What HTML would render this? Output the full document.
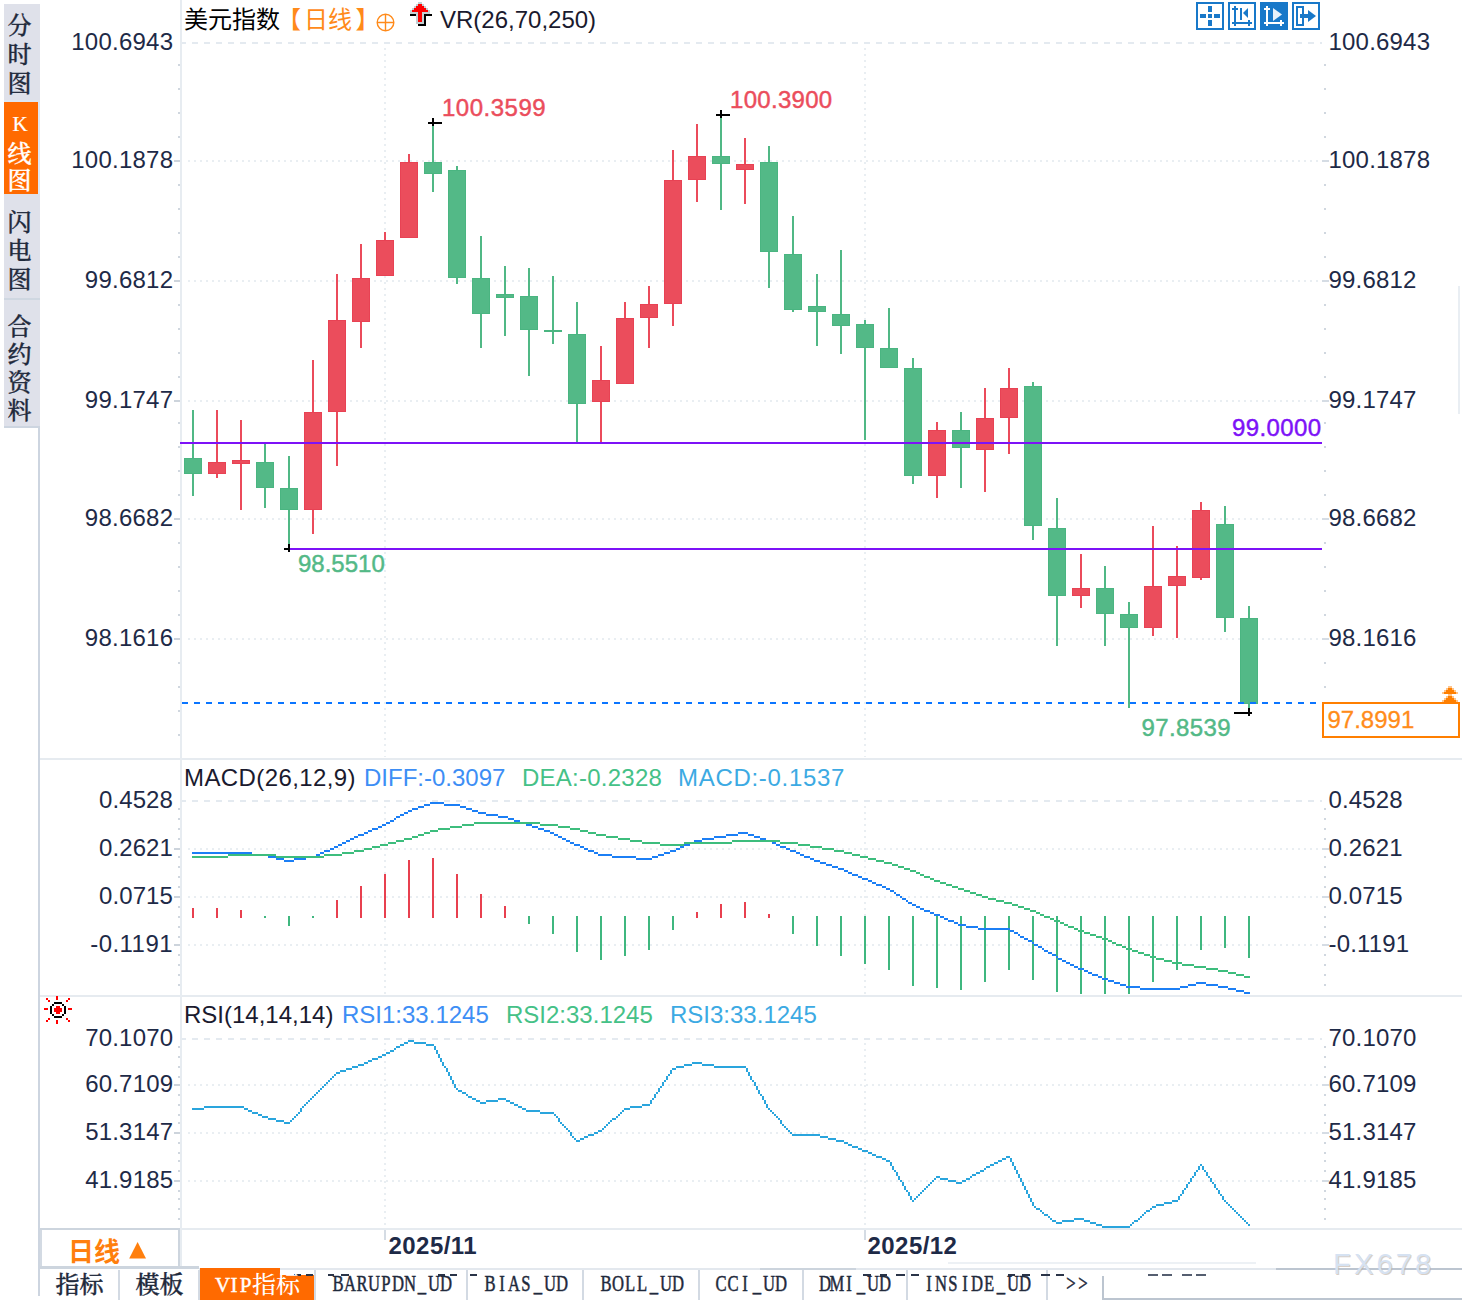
<!DOCTYPE html>
<html lang="zh-CN">
<head>
<meta charset="utf-8">
<title>美元指数 日线</title>
<style>
html,body{margin:0;padding:0;background:#fff;}
body{width:1462px;height:1300px;overflow:hidden;position:relative;font-family:'Liberation Sans','Noto Sans CJK SC',sans-serif;}
svg text{white-space:pre;}
</style>
</head>
<body>
<svg width="1462" height="1300" viewBox="0 0 1462 1300" style="position:absolute;left:0;top:0">
<g shape-rendering="crispEdges">
<rect x="4" y="4" width="36" height="423" fill="#dfe1ea"/>
<rect x="4" y="100" width="36" height="2" fill="#dde7f3"/>
<rect x="38" y="102" width="2" height="92" fill="#dde7f4"/>
<rect x="4" y="102" width="34" height="92" fill="#ff6a00"/>
<rect x="4" y="298" width="36" height="2" fill="#cfd7e1"/>
<rect x="4" y="426" width="36" height="2" fill="#cdd5e0"/>
<rect x="38" y="428" width="2" height="868" fill="#cdd5e0"/>
<rect x="40" y="758" width="1422" height="2" fill="#e6ebf0"/>
<rect x="40" y="995" width="1422" height="2" fill="#e6ebf0"/>
<rect x="40" y="1228" width="1422" height="2" fill="#e6ebf0"/>
<rect x="180" y="0" width="2" height="1268" fill="#e7ecf1"/>
<line x1="180" y1="43" x2="1322" y2="43" stroke="#e4eaf0" stroke-width="2" stroke-dasharray="6 6"/>
<line x1="188" y1="161" x2="1322" y2="161" stroke="#e9eef2" stroke-width="2" stroke-dasharray="2 4"/>
<line x1="188" y1="281" x2="1322" y2="281" stroke="#e9eef2" stroke-width="2" stroke-dasharray="2 4"/>
<line x1="188" y1="401" x2="1322" y2="401" stroke="#e9eef2" stroke-width="2" stroke-dasharray="2 4"/>
<line x1="188" y1="519" x2="1322" y2="519" stroke="#e9eef2" stroke-width="2" stroke-dasharray="2 4"/>
<line x1="188" y1="639" x2="1322" y2="639" stroke="#e9eef2" stroke-width="2" stroke-dasharray="2 4"/>
<line x1="180" y1="801" x2="1322" y2="801" stroke="#e4eaf0" stroke-width="2" stroke-dasharray="6 6"/>
<line x1="188" y1="849" x2="1322" y2="849" stroke="#e9eef2" stroke-width="2" stroke-dasharray="2 4"/>
<line x1="188" y1="897" x2="1322" y2="897" stroke="#e9eef2" stroke-width="2" stroke-dasharray="2 4"/>
<line x1="188" y1="945" x2="1322" y2="945" stroke="#e9eef2" stroke-width="2" stroke-dasharray="2 4"/>
<line x1="180" y1="1039" x2="1322" y2="1039" stroke="#e4eaf0" stroke-width="2" stroke-dasharray="6 6"/>
<line x1="188" y1="1085" x2="1322" y2="1085" stroke="#e9eef2" stroke-width="2" stroke-dasharray="2 4"/>
<line x1="188" y1="1133" x2="1322" y2="1133" stroke="#e9eef2" stroke-width="2" stroke-dasharray="2 4"/>
<line x1="188" y1="1181" x2="1322" y2="1181" stroke="#e9eef2" stroke-width="2" stroke-dasharray="2 4"/>
<line x1="385" y1="48" x2="385" y2="757" stroke="#e9eef2" stroke-width="2" stroke-dasharray="2 4"/>
<line x1="385" y1="806" x2="385" y2="994" stroke="#e9eef2" stroke-width="2" stroke-dasharray="2 4"/>
<line x1="385" y1="1043" x2="385" y2="1228" stroke="#e9eef2" stroke-width="2" stroke-dasharray="2 4"/>
<line x1="865" y1="48" x2="865" y2="757" stroke="#e9eef2" stroke-width="2" stroke-dasharray="2 4"/>
<line x1="865" y1="806" x2="865" y2="994" stroke="#e9eef2" stroke-width="2" stroke-dasharray="2 4"/>
<line x1="865" y1="1043" x2="865" y2="1228" stroke="#e9eef2" stroke-width="2" stroke-dasharray="2 4"/>
<rect x="180" y="0" width="2" height="1268" fill="#e7ecf1"/>
<rect x="178" y="64" width="2" height="2" fill="#d0d7df"/>
<rect x="1324" y="64" width="2" height="2" fill="#d0d7df"/>
<rect x="178" y="88" width="2" height="2" fill="#d0d7df"/>
<rect x="1324" y="88" width="2" height="2" fill="#d0d7df"/>
<rect x="178" y="112" width="2" height="2" fill="#d0d7df"/>
<rect x="1324" y="112" width="2" height="2" fill="#d0d7df"/>
<rect x="178" y="136" width="2" height="2" fill="#d0d7df"/>
<rect x="1324" y="136" width="2" height="2" fill="#d0d7df"/>
<rect x="178" y="184" width="2" height="2" fill="#d0d7df"/>
<rect x="1324" y="184" width="2" height="2" fill="#d0d7df"/>
<rect x="178" y="208" width="2" height="2" fill="#d0d7df"/>
<rect x="1324" y="208" width="2" height="2" fill="#d0d7df"/>
<rect x="178" y="232" width="2" height="2" fill="#d0d7df"/>
<rect x="1324" y="232" width="2" height="2" fill="#d0d7df"/>
<rect x="178" y="256" width="2" height="2" fill="#d0d7df"/>
<rect x="1324" y="256" width="2" height="2" fill="#d0d7df"/>
<rect x="178" y="304" width="2" height="2" fill="#d0d7df"/>
<rect x="1324" y="304" width="2" height="2" fill="#d0d7df"/>
<rect x="178" y="328" width="2" height="2" fill="#d0d7df"/>
<rect x="1324" y="328" width="2" height="2" fill="#d0d7df"/>
<rect x="178" y="352" width="2" height="2" fill="#d0d7df"/>
<rect x="1324" y="352" width="2" height="2" fill="#d0d7df"/>
<rect x="178" y="376" width="2" height="2" fill="#d0d7df"/>
<rect x="1324" y="376" width="2" height="2" fill="#d0d7df"/>
<rect x="178" y="422" width="2" height="2" fill="#d0d7df"/>
<rect x="1324" y="422" width="2" height="2" fill="#d0d7df"/>
<rect x="178" y="446" width="2" height="2" fill="#d0d7df"/>
<rect x="1324" y="446" width="2" height="2" fill="#d0d7df"/>
<rect x="178" y="470" width="2" height="2" fill="#d0d7df"/>
<rect x="1324" y="470" width="2" height="2" fill="#d0d7df"/>
<rect x="178" y="494" width="2" height="2" fill="#d0d7df"/>
<rect x="1324" y="494" width="2" height="2" fill="#d0d7df"/>
<rect x="178" y="542" width="2" height="2" fill="#d0d7df"/>
<rect x="1324" y="542" width="2" height="2" fill="#d0d7df"/>
<rect x="178" y="566" width="2" height="2" fill="#d0d7df"/>
<rect x="1324" y="566" width="2" height="2" fill="#d0d7df"/>
<rect x="178" y="590" width="2" height="2" fill="#d0d7df"/>
<rect x="1324" y="590" width="2" height="2" fill="#d0d7df"/>
<rect x="178" y="614" width="2" height="2" fill="#d0d7df"/>
<rect x="1324" y="614" width="2" height="2" fill="#d0d7df"/>
<rect x="178" y="662" width="2" height="2" fill="#d0d7df"/>
<rect x="1324" y="662" width="2" height="2" fill="#d0d7df"/>
<rect x="178" y="686" width="2" height="2" fill="#d0d7df"/>
<rect x="1324" y="686" width="2" height="2" fill="#d0d7df"/>
<rect x="178" y="710" width="2" height="2" fill="#d0d7df"/>
<rect x="1324" y="710" width="2" height="2" fill="#d0d7df"/>
<rect x="178" y="734" width="2" height="2" fill="#d0d7df"/>
<rect x="1324" y="734" width="2" height="2" fill="#d0d7df"/>
<rect x="174" y="160" width="6" height="2" fill="#cdd4dc"/>
<rect x="1322" y="160" width="7" height="2" fill="#d5dce4"/>
<rect x="174" y="280" width="6" height="2" fill="#cdd4dc"/>
<rect x="1322" y="280" width="7" height="2" fill="#d5dce4"/>
<rect x="174" y="400" width="6" height="2" fill="#cdd4dc"/>
<rect x="1322" y="400" width="7" height="2" fill="#d5dce4"/>
<rect x="174" y="518" width="6" height="2" fill="#cdd4dc"/>
<rect x="1322" y="518" width="7" height="2" fill="#d5dce4"/>
<rect x="174" y="638" width="6" height="2" fill="#cdd4dc"/>
<rect x="1322" y="638" width="7" height="2" fill="#d5dce4"/>
<rect x="178" y="808" width="2" height="2" fill="#d0d7df"/>
<rect x="1324" y="808" width="2" height="2" fill="#d0d7df"/>
<rect x="178" y="818" width="2" height="2" fill="#d0d7df"/>
<rect x="1324" y="818" width="2" height="2" fill="#d0d7df"/>
<rect x="178" y="828" width="2" height="2" fill="#d0d7df"/>
<rect x="1324" y="828" width="2" height="2" fill="#d0d7df"/>
<rect x="178" y="838" width="2" height="2" fill="#d0d7df"/>
<rect x="1324" y="838" width="2" height="2" fill="#d0d7df"/>
<rect x="178" y="856" width="2" height="2" fill="#d0d7df"/>
<rect x="1324" y="856" width="2" height="2" fill="#d0d7df"/>
<rect x="178" y="866" width="2" height="2" fill="#d0d7df"/>
<rect x="1324" y="866" width="2" height="2" fill="#d0d7df"/>
<rect x="178" y="876" width="2" height="2" fill="#d0d7df"/>
<rect x="1324" y="876" width="2" height="2" fill="#d0d7df"/>
<rect x="178" y="886" width="2" height="2" fill="#d0d7df"/>
<rect x="1324" y="886" width="2" height="2" fill="#d0d7df"/>
<rect x="178" y="906" width="2" height="2" fill="#d0d7df"/>
<rect x="1324" y="906" width="2" height="2" fill="#d0d7df"/>
<rect x="178" y="916" width="2" height="2" fill="#d0d7df"/>
<rect x="1324" y="916" width="2" height="2" fill="#d0d7df"/>
<rect x="178" y="926" width="2" height="2" fill="#d0d7df"/>
<rect x="1324" y="926" width="2" height="2" fill="#d0d7df"/>
<rect x="178" y="936" width="2" height="2" fill="#d0d7df"/>
<rect x="1324" y="936" width="2" height="2" fill="#d0d7df"/>
<rect x="178" y="954" width="2" height="2" fill="#d0d7df"/>
<rect x="1324" y="954" width="2" height="2" fill="#d0d7df"/>
<rect x="178" y="964" width="2" height="2" fill="#d0d7df"/>
<rect x="1324" y="964" width="2" height="2" fill="#d0d7df"/>
<rect x="178" y="974" width="2" height="2" fill="#d0d7df"/>
<rect x="1324" y="974" width="2" height="2" fill="#d0d7df"/>
<rect x="178" y="984" width="2" height="2" fill="#d0d7df"/>
<rect x="1324" y="984" width="2" height="2" fill="#d0d7df"/>
<rect x="174" y="848" width="6" height="2" fill="#cdd4dc"/>
<rect x="1322" y="848" width="7" height="2" fill="#d5dce4"/>
<rect x="174" y="896" width="6" height="2" fill="#cdd4dc"/>
<rect x="1322" y="896" width="7" height="2" fill="#d5dce4"/>
<rect x="174" y="944" width="6" height="2" fill="#cdd4dc"/>
<rect x="1322" y="944" width="7" height="2" fill="#d5dce4"/>
<rect x="178" y="1046" width="2" height="2" fill="#d0d7df"/>
<rect x="1324" y="1046" width="2" height="2" fill="#d0d7df"/>
<rect x="178" y="1056" width="2" height="2" fill="#d0d7df"/>
<rect x="1324" y="1056" width="2" height="2" fill="#d0d7df"/>
<rect x="178" y="1066" width="2" height="2" fill="#d0d7df"/>
<rect x="1324" y="1066" width="2" height="2" fill="#d0d7df"/>
<rect x="178" y="1076" width="2" height="2" fill="#d0d7df"/>
<rect x="1324" y="1076" width="2" height="2" fill="#d0d7df"/>
<rect x="178" y="1094" width="2" height="2" fill="#d0d7df"/>
<rect x="1324" y="1094" width="2" height="2" fill="#d0d7df"/>
<rect x="178" y="1104" width="2" height="2" fill="#d0d7df"/>
<rect x="1324" y="1104" width="2" height="2" fill="#d0d7df"/>
<rect x="178" y="1114" width="2" height="2" fill="#d0d7df"/>
<rect x="1324" y="1114" width="2" height="2" fill="#d0d7df"/>
<rect x="178" y="1122" width="2" height="2" fill="#d0d7df"/>
<rect x="1324" y="1122" width="2" height="2" fill="#d0d7df"/>
<rect x="178" y="1142" width="2" height="2" fill="#d0d7df"/>
<rect x="1324" y="1142" width="2" height="2" fill="#d0d7df"/>
<rect x="178" y="1152" width="2" height="2" fill="#d0d7df"/>
<rect x="1324" y="1152" width="2" height="2" fill="#d0d7df"/>
<rect x="178" y="1160" width="2" height="2" fill="#d0d7df"/>
<rect x="1324" y="1160" width="2" height="2" fill="#d0d7df"/>
<rect x="178" y="1170" width="2" height="2" fill="#d0d7df"/>
<rect x="1324" y="1170" width="2" height="2" fill="#d0d7df"/>
<rect x="178" y="1190" width="2" height="2" fill="#d0d7df"/>
<rect x="1324" y="1190" width="2" height="2" fill="#d0d7df"/>
<rect x="178" y="1198" width="2" height="2" fill="#d0d7df"/>
<rect x="1324" y="1198" width="2" height="2" fill="#d0d7df"/>
<rect x="178" y="1208" width="2" height="2" fill="#d0d7df"/>
<rect x="1324" y="1208" width="2" height="2" fill="#d0d7df"/>
<rect x="178" y="1218" width="2" height="2" fill="#d0d7df"/>
<rect x="1324" y="1218" width="2" height="2" fill="#d0d7df"/>
<rect x="174" y="1084" width="6" height="2" fill="#cdd4dc"/>
<rect x="1322" y="1084" width="7" height="2" fill="#d5dce4"/>
<rect x="174" y="1132" width="6" height="2" fill="#cdd4dc"/>
<rect x="1322" y="1132" width="7" height="2" fill="#d5dce4"/>
<rect x="174" y="1180" width="6" height="2" fill="#cdd4dc"/>
<rect x="1322" y="1180" width="7" height="2" fill="#d5dce4"/>
<rect x="180" y="441.5" width="1142" height="2.5" fill="#7d12f7"/>
<rect x="289" y="547.5" width="1033" height="2.5" fill="#7d12f7"/>
<rect x="192" y="410" width="2" height="86" fill="#50b885"/>
<rect x="184.5" y="458.5" width="17" height="15" fill="#53b987" stroke="#4ab581" stroke-width="1"/>
<rect x="216" y="410" width="2" height="68" fill="#eb4b5b"/>
<rect x="208.5" y="462.5" width="17" height="11" fill="#eb4d5c" stroke="#e84254" stroke-width="1"/>
<rect x="240" y="420" width="2" height="90" fill="#eb4b5b"/>
<rect x="232.5" y="460.5" width="17" height="3" fill="#eb4d5c" stroke="#e84254" stroke-width="1"/>
<rect x="264" y="444" width="2" height="64" fill="#50b885"/>
<rect x="256.5" y="462.5" width="17" height="25" fill="#53b987" stroke="#4ab581" stroke-width="1"/>
<rect x="288" y="456" width="2" height="93" fill="#50b885"/>
<rect x="280.5" y="488.5" width="17" height="21" fill="#53b987" stroke="#4ab581" stroke-width="1"/>
<rect x="312" y="360" width="2" height="174" fill="#eb4b5b"/>
<rect x="304.5" y="412.5" width="17" height="97" fill="#eb4d5c" stroke="#e84254" stroke-width="1"/>
<rect x="336" y="274" width="2" height="192" fill="#eb4b5b"/>
<rect x="328.5" y="320.5" width="17" height="91" fill="#eb4d5c" stroke="#e84254" stroke-width="1"/>
<rect x="360" y="244" width="2" height="104" fill="#eb4b5b"/>
<rect x="352.5" y="278.5" width="17" height="43" fill="#eb4d5c" stroke="#e84254" stroke-width="1"/>
<rect x="384" y="232" width="2" height="44" fill="#eb4b5b"/>
<rect x="376.5" y="240.5" width="17" height="35" fill="#eb4d5c" stroke="#e84254" stroke-width="1"/>
<rect x="408" y="154" width="2" height="84" fill="#eb4b5b"/>
<rect x="400.5" y="162.5" width="17" height="75" fill="#eb4d5c" stroke="#e84254" stroke-width="1"/>
<rect x="432" y="123" width="2" height="69" fill="#50b885"/>
<rect x="424.5" y="162.5" width="17" height="11" fill="#53b987" stroke="#4ab581" stroke-width="1"/>
<rect x="456" y="166" width="2" height="118" fill="#50b885"/>
<rect x="448.5" y="170.5" width="17" height="107" fill="#53b987" stroke="#4ab581" stroke-width="1"/>
<rect x="480" y="236" width="2" height="112" fill="#50b885"/>
<rect x="472.5" y="278.5" width="17" height="35" fill="#53b987" stroke="#4ab581" stroke-width="1"/>
<rect x="504" y="266" width="2" height="70" fill="#50b885"/>
<rect x="496.5" y="294.5" width="17" height="3" fill="#53b987" stroke="#4ab581" stroke-width="1"/>
<rect x="528" y="268" width="2" height="108" fill="#50b885"/>
<rect x="520.5" y="296.5" width="17" height="33" fill="#53b987" stroke="#4ab581" stroke-width="1"/>
<rect x="552" y="276" width="2" height="68" fill="#50b885"/>
<rect x="544" y="330" width="18" height="2" fill="#4ab581"/>
<rect x="576" y="302" width="2" height="140" fill="#50b885"/>
<rect x="568.5" y="334.5" width="17" height="69" fill="#53b987" stroke="#4ab581" stroke-width="1"/>
<rect x="600" y="346" width="2" height="96" fill="#eb4b5b"/>
<rect x="592.5" y="380.5" width="17" height="21" fill="#eb4d5c" stroke="#e84254" stroke-width="1"/>
<rect x="624" y="302" width="2" height="82" fill="#eb4b5b"/>
<rect x="616.5" y="318.5" width="17" height="65" fill="#eb4d5c" stroke="#e84254" stroke-width="1"/>
<rect x="648" y="286" width="2" height="62" fill="#eb4b5b"/>
<rect x="640.5" y="304.5" width="17" height="13" fill="#eb4d5c" stroke="#e84254" stroke-width="1"/>
<rect x="672" y="150" width="2" height="176" fill="#eb4b5b"/>
<rect x="664.5" y="180.5" width="17" height="123" fill="#eb4d5c" stroke="#e84254" stroke-width="1"/>
<rect x="696" y="124" width="2" height="78" fill="#eb4b5b"/>
<rect x="688.5" y="156.5" width="17" height="23" fill="#eb4d5c" stroke="#e84254" stroke-width="1"/>
<rect x="720" y="115" width="2" height="95" fill="#50b885"/>
<rect x="712.5" y="156.5" width="17" height="7" fill="#53b987" stroke="#4ab581" stroke-width="1"/>
<rect x="744" y="138" width="2" height="66" fill="#eb4b5b"/>
<rect x="736.5" y="164.5" width="17" height="5" fill="#eb4d5c" stroke="#e84254" stroke-width="1"/>
<rect x="768" y="146" width="2" height="142" fill="#50b885"/>
<rect x="760.5" y="162.5" width="17" height="89" fill="#53b987" stroke="#4ab581" stroke-width="1"/>
<rect x="792" y="216" width="2" height="96" fill="#50b885"/>
<rect x="784.5" y="254.5" width="17" height="55" fill="#53b987" stroke="#4ab581" stroke-width="1"/>
<rect x="816" y="274" width="2" height="72" fill="#50b885"/>
<rect x="808.5" y="306.5" width="17" height="5" fill="#53b987" stroke="#4ab581" stroke-width="1"/>
<rect x="840" y="250" width="2" height="104" fill="#50b885"/>
<rect x="832.5" y="314.5" width="17" height="11" fill="#53b987" stroke="#4ab581" stroke-width="1"/>
<rect x="864" y="320" width="2" height="120" fill="#50b885"/>
<rect x="856.5" y="324.5" width="17" height="23" fill="#53b987" stroke="#4ab581" stroke-width="1"/>
<rect x="888" y="308" width="2" height="60" fill="#50b885"/>
<rect x="880.5" y="348.5" width="17" height="19" fill="#53b987" stroke="#4ab581" stroke-width="1"/>
<rect x="912" y="358" width="2" height="126" fill="#50b885"/>
<rect x="904.5" y="368.5" width="17" height="107" fill="#53b987" stroke="#4ab581" stroke-width="1"/>
<rect x="936" y="422" width="2" height="76" fill="#eb4b5b"/>
<rect x="928.5" y="430.5" width="17" height="45" fill="#eb4d5c" stroke="#e84254" stroke-width="1"/>
<rect x="960" y="412" width="2" height="76" fill="#50b885"/>
<rect x="952.5" y="430.5" width="17" height="17" fill="#53b987" stroke="#4ab581" stroke-width="1"/>
<rect x="984" y="388" width="2" height="104" fill="#eb4b5b"/>
<rect x="976.5" y="418.5" width="17" height="31" fill="#eb4d5c" stroke="#e84254" stroke-width="1"/>
<rect x="1008" y="368" width="2" height="86" fill="#eb4b5b"/>
<rect x="1000.5" y="388.5" width="17" height="29" fill="#eb4d5c" stroke="#e84254" stroke-width="1"/>
<rect x="1032" y="382" width="2" height="158" fill="#50b885"/>
<rect x="1024.5" y="386.5" width="17" height="139" fill="#53b987" stroke="#4ab581" stroke-width="1"/>
<rect x="1056" y="498" width="2" height="148" fill="#50b885"/>
<rect x="1048.5" y="528.5" width="17" height="67" fill="#53b987" stroke="#4ab581" stroke-width="1"/>
<rect x="1080" y="554" width="2" height="54" fill="#eb4b5b"/>
<rect x="1072.5" y="588.5" width="17" height="7" fill="#eb4d5c" stroke="#e84254" stroke-width="1"/>
<rect x="1104" y="566" width="2" height="80" fill="#50b885"/>
<rect x="1096.5" y="588.5" width="17" height="25" fill="#53b987" stroke="#4ab581" stroke-width="1"/>
<rect x="1128" y="602" width="2" height="106" fill="#50b885"/>
<rect x="1120.5" y="614.5" width="17" height="13" fill="#53b987" stroke="#4ab581" stroke-width="1"/>
<rect x="1152" y="526" width="2" height="110" fill="#eb4b5b"/>
<rect x="1144.5" y="586.5" width="17" height="41" fill="#eb4d5c" stroke="#e84254" stroke-width="1"/>
<rect x="1176" y="546" width="2" height="92" fill="#eb4b5b"/>
<rect x="1168.5" y="576.5" width="17" height="9" fill="#eb4d5c" stroke="#e84254" stroke-width="1"/>
<rect x="1200" y="502" width="2" height="78" fill="#eb4b5b"/>
<rect x="1192.5" y="510.5" width="17" height="67" fill="#eb4d5c" stroke="#e84254" stroke-width="1"/>
<rect x="1224" y="506" width="2" height="126" fill="#50b885"/>
<rect x="1216.5" y="524.5" width="17" height="93" fill="#53b987" stroke="#4ab581" stroke-width="1"/>
<rect x="1248" y="606" width="2" height="106" fill="#50b885"/>
<rect x="1240.5" y="618.5" width="17" height="85" fill="#53b987" stroke="#4ab581" stroke-width="1"/>
<rect x="180" y="441.5" width="1142" height="2.5" fill="#7d12f7"/>
<rect x="289" y="547.5" width="1033" height="2.5" fill="#7d12f7"/>
<rect x="428" y="122" width="14" height="2" fill="#000"/>
<rect x="432" y="118" width="2" height="8" fill="#000"/>
<rect x="716" y="114" width="14" height="2" fill="#000"/>
<rect x="720" y="110" width="2" height="8" fill="#000"/>
<rect x="284" y="548" width="6" height="2" fill="#000"/>
<rect x="288" y="544" width="2" height="8" fill="#000"/>
<rect x="1234" y="712" width="18" height="2" fill="#000"/>
<rect x="1248" y="708" width="2" height="8" fill="#000"/>
<line x1="182" y1="703" x2="1318" y2="703" stroke="#0a75ff" stroke-width="2" stroke-dasharray="6 6"/>
<rect x="1323" y="703" width="136" height="34" fill="#fff" stroke="#ff7f00" stroke-width="2"/>
<rect x="1448" y="686" width="4" height="2" fill="#ffc48a"/>
<rect x="1448" y="688" width="4" height="2" fill="#ff7f00"/>
<rect x="1446" y="688" width="2" height="2" fill="#ffc48a"/>
<rect x="1452" y="688" width="2" height="2" fill="#ffc48a"/>
<rect x="1446" y="690" width="8" height="2" fill="#ff7f00"/>
<rect x="1444" y="690" width="2" height="2" fill="#ffc48a"/>
<rect x="1454" y="690" width="2" height="2" fill="#ffc48a"/>
<rect x="1444" y="692" width="12" height="2" fill="#ff7f00"/>
<rect x="1442" y="692" width="2" height="2" fill="#ffc48a"/>
<rect x="1456" y="692" width="2" height="2" fill="#ffc48a"/>
<rect x="1448" y="694" width="4" height="2" fill="#ffc48a"/>
<rect x="1448" y="696" width="4" height="2" fill="#ff7f00"/>
<rect x="1446" y="696" width="2" height="2" fill="#ffc48a"/>
<rect x="1452" y="696" width="2" height="2" fill="#ffc48a"/>
<rect x="1446" y="698" width="8" height="2" fill="#ff7f00"/>
<rect x="1444" y="698" width="2" height="2" fill="#ffc48a"/>
<rect x="1454" y="698" width="2" height="2" fill="#ffc48a"/>
<rect x="1444" y="700" width="12" height="2" fill="#ff7f00"/>
<rect x="1442" y="700" width="2" height="2" fill="#ffc48a"/>
<rect x="1456" y="700" width="2" height="2" fill="#ffc48a"/>
<rect x="1458" y="286" width="2" height="128" fill="#e9eef3"/>
<rect x="192" y="908" width="2" height="10" fill="#e8404f"/>
<rect x="216" y="908" width="2" height="10" fill="#e8404f"/>
<rect x="240" y="910" width="2" height="8" fill="#e8404f"/>
<rect x="264" y="916" width="2" height="2" fill="#3fb77f"/>
<rect x="288" y="916" width="2" height="10" fill="#3fb77f"/>
<rect x="312" y="916" width="2" height="2" fill="#3fb77f"/>
<rect x="336" y="900" width="2" height="18" fill="#e8404f"/>
<rect x="360" y="886" width="2" height="32" fill="#e8404f"/>
<rect x="384" y="874" width="2" height="44" fill="#e8404f"/>
<rect x="408" y="860" width="2" height="58" fill="#e8404f"/>
<rect x="432" y="858" width="2" height="60" fill="#e8404f"/>
<rect x="456" y="874" width="2" height="44" fill="#e8404f"/>
<rect x="480" y="894" width="2" height="24" fill="#e8404f"/>
<rect x="504" y="906" width="2" height="12" fill="#e8404f"/>
<rect x="528" y="916" width="2" height="8" fill="#3fb77f"/>
<rect x="552" y="916" width="2" height="18" fill="#3fb77f"/>
<rect x="576" y="916" width="2" height="36" fill="#3fb77f"/>
<rect x="600" y="916" width="2" height="44" fill="#3fb77f"/>
<rect x="624" y="916" width="2" height="40" fill="#3fb77f"/>
<rect x="648" y="916" width="2" height="34" fill="#3fb77f"/>
<rect x="672" y="916" width="2" height="14" fill="#3fb77f"/>
<rect x="696" y="912" width="2" height="6" fill="#e8404f"/>
<rect x="720" y="904" width="2" height="14" fill="#e8404f"/>
<rect x="744" y="902" width="2" height="16" fill="#e8404f"/>
<rect x="768" y="914" width="2" height="4" fill="#e8404f"/>
<rect x="792" y="916" width="2" height="18" fill="#3fb77f"/>
<rect x="816" y="916" width="2" height="30" fill="#3fb77f"/>
<rect x="840" y="916" width="2" height="40" fill="#3fb77f"/>
<rect x="864" y="916" width="2" height="48" fill="#3fb77f"/>
<rect x="888" y="916" width="2" height="54" fill="#3fb77f"/>
<rect x="912" y="916" width="2" height="70" fill="#3fb77f"/>
<rect x="936" y="916" width="2" height="72" fill="#3fb77f"/>
<rect x="960" y="916" width="2" height="74" fill="#3fb77f"/>
<rect x="984" y="916" width="2" height="66" fill="#3fb77f"/>
<rect x="1008" y="916" width="2" height="54" fill="#3fb77f"/>
<rect x="1032" y="916" width="2" height="64" fill="#3fb77f"/>
<rect x="1056" y="916" width="2" height="76" fill="#3fb77f"/>
<rect x="1080" y="916" width="2" height="78" fill="#3fb77f"/>
<rect x="1104" y="916" width="2" height="78" fill="#3fb77f"/>
<rect x="1128" y="916" width="2" height="78" fill="#3fb77f"/>
<rect x="1152" y="916" width="2" height="66" fill="#3fb77f"/>
<rect x="1176" y="916" width="2" height="54" fill="#3fb77f"/>
<rect x="1200" y="916" width="2" height="34" fill="#3fb77f"/>
<rect x="1224" y="916" width="2" height="32" fill="#3fb77f"/>
<rect x="1248" y="916" width="2" height="42" fill="#3fb77f"/>
</g>
<path d="M430 802h14v2h-14zM424 804h6v2h-6zM444 804h16v2h-16zM418 806h6v2h-6zM460 806h6v2h-6zM412 808h6v2h-6zM466 808h6v2h-6zM408 810h4v2h-4zM472 810h6v2h-6zM404 812h4v2h-4zM478 812h8v2h-8zM400 814h4v2h-4zM486 814h12v2h-12zM396 816h4v2h-4zM498 816h10v2h-10zM394 818h2v2h-2zM508 818h6v2h-6zM390 820h4v2h-4zM514 820h6v2h-6zM386 822h4v2h-4zM520 822h6v2h-6zM382 824h4v2h-4zM526 824h6v2h-6zM378 826h4v2h-4zM532 826h6v2h-6zM372 828h6v2h-6zM538 828h6v2h-6zM368 830h4v2h-4zM544 830h6v2h-6zM364 832h4v2h-4zM550 832h4v2h-4zM738 832h10v2h-10zM358 834h6v2h-6zM554 834h4v2h-4zM726 834h12v2h-12zM748 834h6v2h-6zM354 836h4v2h-4zM558 836h4v2h-4zM714 836h12v2h-12zM754 836h6v2h-6zM350 838h4v2h-4zM562 838h4v2h-4zM702 838h12v2h-12zM760 838h6v2h-6zM346 840h4v2h-4zM566 840h4v2h-4zM694 840h8v2h-8zM766 840h6v2h-6zM342 842h4v2h-4zM570 842h4v2h-4zM690 842h4v2h-4zM772 842h4v2h-4zM338 844h4v2h-4zM574 844h6v2h-6zM684 844h6v2h-6zM776 844h4v2h-4zM334 846h4v2h-4zM580 846h4v2h-4zM680 846h4v2h-4zM780 846h6v2h-6zM330 848h4v2h-4zM584 848h4v2h-4zM676 848h4v2h-4zM786 848h4v2h-4zM324 850h6v2h-6zM588 850h6v2h-6zM670 850h6v2h-6zM790 850h6v2h-6zM192 852h60v2h-60zM320 852h4v2h-4zM594 852h4v2h-4zM664 852h6v2h-6zM796 852h4v2h-4zM252 854h16v2h-16zM316 854h4v2h-4zM598 854h14v2h-14zM658 854h6v2h-6zM800 854h4v2h-4zM268 856h8v2h-8zM306 856h10v2h-10zM612 856h24v2h-24zM652 856h6v2h-6zM804 856h6v2h-6zM276 858h8v2h-8zM294 858h12v2h-12zM636 858h16v2h-16zM810 858h4v2h-4zM284 860h10v2h-10zM814 860h6v2h-6zM820 862h6v2h-6zM826 864h6v2h-6zM832 866h6v2h-6zM838 868h6v2h-6zM844 870h4v2h-4zM848 872h4v2h-4zM852 874h6v2h-6zM858 876h4v2h-4zM862 878h6v2h-6zM868 880h4v2h-4zM872 882h4v2h-4zM876 884h6v2h-6zM882 886h4v2h-4zM886 888h4v2h-4zM890 890h4v2h-4zM894 892h2v2h-2zM896 894h4v2h-4zM900 896h2v2h-2zM902 898h4v2h-4zM906 900h2v2h-2zM908 902h4v2h-4zM912 904h4v2h-4zM916 906h4v2h-4zM920 908h4v2h-4zM924 910h6v2h-6zM930 912h4v2h-4zM934 914h6v2h-6zM940 916h4v2h-4zM944 918h4v2h-4zM948 920h6v2h-6zM954 922h4v2h-4zM958 924h8v2h-8zM966 926h12v2h-12zM978 928h32v2h-32zM1010 930h4v2h-4zM1014 932h4v2h-4zM1018 934h2v2h-2zM1020 936h4v2h-4zM1024 938h4v2h-4zM1028 940h4v2h-4zM1032 942h2v2h-2zM1034 944h4v2h-4zM1038 946h4v2h-4zM1042 948h2v2h-2zM1044 950h4v2h-4zM1048 952h4v2h-4zM1052 954h4v2h-4zM1056 956h2v2h-2zM1058 958h4v2h-4zM1062 960h4v2h-4zM1066 962h4v2h-4zM1070 964h4v2h-4zM1074 966h4v2h-4zM1078 968h6v2h-6zM1084 970h4v2h-4zM1088 972h4v2h-4zM1092 974h6v2h-6zM1098 976h4v2h-4zM1102 978h6v2h-6zM1108 980h6v2h-6zM1114 982h6v2h-6zM1196 982h10v2h-10zM1120 984h6v2h-6zM1188 984h8v2h-8zM1206 984h12v2h-12zM1126 986h14v2h-14zM1180 986h8v2h-8zM1218 986h10v2h-10zM1140 988h40v2h-40zM1228 988h8v2h-8zM1236 990h8v2h-8zM1244 992h6v2h-6z" fill="#1c7ff5" shape-rendering="crispEdges"/>
<path d="M474 822h66v2h-66zM462 824h12v2h-12zM540 824h18v2h-18zM450 826h12v2h-12zM558 826h12v2h-12zM438 828h12v2h-12zM570 828h10v2h-10zM430 830h8v2h-8zM580 830h8v2h-8zM424 832h6v2h-6zM588 832h8v2h-8zM418 834h6v2h-6zM596 834h10v2h-10zM412 836h6v2h-6zM606 836h12v2h-12zM404 838h8v2h-8zM618 838h12v2h-12zM396 840h8v2h-8zM630 840h12v2h-12zM732 840h48v2h-48zM388 842h8v2h-8zM642 842h18v2h-18zM684 842h48v2h-48zM780 842h18v2h-18zM380 844h8v2h-8zM660 844h24v2h-24zM798 844h12v2h-12zM372 846h8v2h-8zM810 846h12v2h-12zM364 848h8v2h-8zM822 848h12v2h-12zM354 850h10v2h-10zM834 850h10v2h-10zM342 852h12v2h-12zM844 852h8v2h-8zM228 854h48v2h-48zM324 854h18v2h-18zM852 854h8v2h-8zM192 856h36v2h-36zM276 856h48v2h-48zM860 856h8v2h-8zM868 858h8v2h-8zM876 860h8v2h-8zM884 862h8v2h-8zM892 864h6v2h-6zM898 866h6v2h-6zM904 868h6v2h-6zM910 870h6v2h-6zM916 872h4v2h-4zM920 874h4v2h-4zM924 876h6v2h-6zM930 878h4v2h-4zM934 880h6v2h-6zM940 882h6v2h-6zM946 884h6v2h-6zM952 886h6v2h-6zM958 888h6v2h-6zM964 890h6v2h-6zM970 892h6v2h-6zM976 894h6v2h-6zM982 896h6v2h-6zM988 898h8v2h-8zM996 900h8v2h-8zM1004 902h8v2h-8zM1012 904h6v2h-6zM1018 906h6v2h-6zM1024 908h6v2h-6zM1030 910h6v2h-6zM1036 912h4v2h-4zM1040 914h4v2h-4zM1044 916h6v2h-6zM1050 918h4v2h-4zM1054 920h6v2h-6zM1060 922h4v2h-4zM1064 924h4v2h-4zM1068 926h6v2h-6zM1074 928h4v2h-4zM1078 930h6v2h-6zM1084 932h6v2h-6zM1090 934h6v2h-6zM1096 936h6v2h-6zM1102 938h6v2h-6zM1108 940h4v2h-4zM1112 942h4v2h-4zM1116 944h6v2h-6zM1122 946h4v2h-4zM1126 948h6v2h-6zM1132 950h6v2h-6zM1138 952h6v2h-6zM1144 954h6v2h-6zM1150 956h6v2h-6zM1156 958h8v2h-8zM1164 960h8v2h-8zM1172 962h10v2h-10zM1182 964h12v2h-12zM1194 966h12v2h-12zM1206 968h12v2h-12zM1218 970h10v2h-10zM1228 972h8v2h-8zM1236 974h8v2h-8zM1244 976h6v2h-6z" fill="#3dbd7d" shape-rendering="crispEdges"/>
<path d="M408 1040h6v2h-6zM404 1042h4v2h-4zM414 1042h12v2h-12zM400 1044h4v2h-4zM426 1044h8v2h-8zM396 1046h4v2h-4zM434 1046h2v2h-2zM394 1048h2v2h-2zM434 1048h2v2h-2zM390 1050h4v2h-4zM436 1050h2v2h-2zM386 1052h4v2h-4zM436 1052h2v2h-2zM382 1054h4v2h-4zM438 1054h2v2h-2zM378 1056h4v2h-4zM438 1056h2v2h-2zM372 1058h6v2h-6zM440 1058h2v2h-2zM368 1060h4v2h-4zM440 1060h2v2h-2zM364 1062h4v2h-4zM442 1062h2v2h-2zM692 1062h10v2h-10zM358 1064h6v2h-6zM442 1064h2v2h-2zM684 1064h8v2h-8zM702 1064h12v2h-12zM352 1066h6v2h-6zM444 1066h2v2h-2zM676 1066h8v2h-8zM714 1066h32v2h-32zM346 1068h6v2h-6zM446 1068h2v2h-2zM672 1068h4v2h-4zM746 1068h2v2h-2zM340 1070h6v2h-6zM446 1070h2v2h-2zM670 1070h2v2h-2zM746 1070h2v2h-2zM336 1072h4v2h-4zM448 1072h2v2h-2zM670 1072h2v2h-2zM748 1072h2v2h-2zM334 1074h2v2h-2zM448 1074h2v2h-2zM668 1074h2v2h-2zM748 1074h2v2h-2zM332 1076h2v2h-2zM450 1076h2v2h-2zM666 1076h2v2h-2zM750 1076h2v2h-2zM330 1078h2v2h-2zM450 1078h2v2h-2zM666 1078h2v2h-2zM750 1078h2v2h-2zM328 1080h2v2h-2zM452 1080h2v2h-2zM664 1080h2v2h-2zM752 1080h2v2h-2zM326 1082h2v2h-2zM452 1082h2v2h-2zM662 1082h2v2h-2zM754 1082h2v2h-2zM324 1084h2v2h-2zM454 1084h2v2h-2zM662 1084h2v2h-2zM754 1084h2v2h-2zM322 1086h2v2h-2zM454 1086h2v2h-2zM660 1086h2v2h-2zM756 1086h2v2h-2zM320 1088h2v2h-2zM456 1088h2v2h-2zM658 1088h2v2h-2zM756 1088h2v2h-2zM318 1090h2v2h-2zM458 1090h4v2h-4zM658 1090h2v2h-2zM758 1090h2v2h-2zM316 1092h2v2h-2zM462 1092h4v2h-4zM656 1092h2v2h-2zM758 1092h2v2h-2zM314 1094h2v2h-2zM466 1094h2v2h-2zM654 1094h2v2h-2zM760 1094h2v2h-2zM312 1096h2v2h-2zM468 1096h4v2h-4zM654 1096h2v2h-2zM762 1096h2v2h-2zM310 1098h2v2h-2zM472 1098h4v2h-4zM498 1098h8v2h-8zM652 1098h2v2h-2zM762 1098h2v2h-2zM308 1100h2v2h-2zM476 1100h4v2h-4zM486 1100h12v2h-12zM506 1100h4v2h-4zM650 1100h2v2h-2zM764 1100h2v2h-2zM306 1102h2v2h-2zM480 1102h6v2h-6zM510 1102h4v2h-4zM650 1102h2v2h-2zM764 1102h2v2h-2zM304 1104h2v2h-2zM514 1104h4v2h-4zM642 1104h8v2h-8zM766 1104h2v2h-2zM204 1106h40v2h-40zM302 1106h2v2h-2zM518 1106h4v2h-4zM630 1106h12v2h-12zM766 1106h2v2h-2zM192 1108h12v2h-12zM244 1108h4v2h-4zM300 1108h2v2h-2zM522 1108h4v2h-4zM624 1108h6v2h-6zM768 1108h2v2h-2zM248 1110h4v2h-4zM300 1110h2v2h-2zM526 1110h14v2h-14zM622 1110h2v2h-2zM770 1110h2v2h-2zM252 1112h6v2h-6zM298 1112h2v2h-2zM540 1112h14v2h-14zM620 1112h2v2h-2zM772 1112h2v2h-2zM258 1114h4v2h-4zM296 1114h2v2h-2zM554 1114h2v2h-2zM618 1114h2v2h-2zM774 1114h2v2h-2zM262 1116h6v2h-6zM294 1116h2v2h-2zM556 1116h2v2h-2zM616 1116h2v2h-2zM776 1116h2v2h-2zM268 1118h8v2h-8zM292 1118h2v2h-2zM558 1118h2v2h-2zM612 1118h4v2h-4zM778 1118h2v2h-2zM276 1120h8v2h-8zM290 1120h2v2h-2zM558 1120h2v2h-2zM610 1120h2v2h-2zM780 1120h2v2h-2zM284 1122h6v2h-6zM560 1122h2v2h-2zM608 1122h2v2h-2zM780 1122h2v2h-2zM562 1124h2v2h-2zM606 1124h2v2h-2zM782 1124h2v2h-2zM564 1126h2v2h-2zM604 1126h2v2h-2zM784 1126h2v2h-2zM566 1128h2v2h-2zM602 1128h2v2h-2zM786 1128h2v2h-2zM568 1130h2v2h-2zM598 1130h4v2h-4zM788 1130h2v2h-2zM570 1132h2v2h-2zM594 1132h4v2h-4zM790 1132h2v2h-2zM570 1134h2v2h-2zM588 1134h6v2h-6zM792 1134h28v2h-28zM572 1136h2v2h-2zM584 1136h4v2h-4zM820 1136h8v2h-8zM574 1138h2v2h-2zM580 1138h4v2h-4zM828 1138h8v2h-8zM576 1140h4v2h-4zM836 1140h8v2h-8zM844 1142h4v2h-4zM848 1144h4v2h-4zM852 1146h6v2h-6zM858 1148h4v2h-4zM862 1150h6v2h-6zM868 1152h4v2h-4zM872 1154h4v2h-4zM876 1156h6v2h-6zM1006 1156h4v2h-4zM882 1158h4v2h-4zM1002 1158h4v2h-4zM1010 1158h2v2h-2zM886 1160h4v2h-4zM998 1160h4v2h-4zM1010 1160h2v2h-2zM890 1162h2v2h-2zM994 1162h4v2h-4zM1012 1162h2v2h-2zM890 1164h2v2h-2zM990 1164h4v2h-4zM1012 1164h2v2h-2zM1200 1164h2v2h-2zM892 1166h2v2h-2zM986 1166h4v2h-4zM1014 1166h2v2h-2zM1198 1166h2v2h-2zM1202 1166h2v2h-2zM892 1168h2v2h-2zM984 1168h2v2h-2zM1014 1168h2v2h-2zM1198 1168h2v2h-2zM1202 1168h2v2h-2zM894 1170h2v2h-2zM980 1170h4v2h-4zM1016 1170h2v2h-2zM1196 1170h2v2h-2zM1204 1170h2v2h-2zM896 1172h2v2h-2zM976 1172h4v2h-4zM1016 1172h2v2h-2zM1194 1172h2v2h-2zM1206 1172h2v2h-2zM896 1174h2v2h-2zM972 1174h4v2h-4zM1018 1174h2v2h-2zM1194 1174h2v2h-2zM1206 1174h2v2h-2zM898 1176h2v2h-2zM936 1176h4v2h-4zM970 1176h2v2h-2zM1018 1176h2v2h-2zM1192 1176h2v2h-2zM1208 1176h2v2h-2zM898 1178h2v2h-2zM934 1178h2v2h-2zM940 1178h8v2h-8zM966 1178h4v2h-4zM1020 1178h2v2h-2zM1190 1178h2v2h-2zM1210 1178h2v2h-2zM900 1180h2v2h-2zM932 1180h2v2h-2zM948 1180h8v2h-8zM962 1180h4v2h-4zM1020 1180h2v2h-2zM1190 1180h2v2h-2zM1210 1180h2v2h-2zM902 1182h2v2h-2zM930 1182h2v2h-2zM956 1182h6v2h-6zM1022 1182h2v2h-2zM1188 1182h2v2h-2zM1212 1182h2v2h-2zM902 1184h2v2h-2zM928 1184h2v2h-2zM1022 1184h2v2h-2zM1186 1184h2v2h-2zM1214 1184h2v2h-2zM904 1186h2v2h-2zM926 1186h2v2h-2zM1024 1186h2v2h-2zM1186 1186h2v2h-2zM1214 1186h2v2h-2zM904 1188h2v2h-2zM924 1188h2v2h-2zM1024 1188h2v2h-2zM1184 1188h2v2h-2zM1216 1188h2v2h-2zM906 1190h2v2h-2zM922 1190h2v2h-2zM1026 1190h2v2h-2zM1182 1190h2v2h-2zM1218 1190h2v2h-2zM908 1192h2v2h-2zM920 1192h2v2h-2zM1026 1192h2v2h-2zM1182 1192h2v2h-2zM1218 1192h2v2h-2zM908 1194h2v2h-2zM918 1194h2v2h-2zM1028 1194h2v2h-2zM1180 1194h2v2h-2zM1220 1194h2v2h-2zM910 1196h2v2h-2zM916 1196h2v2h-2zM1028 1196h2v2h-2zM1178 1196h2v2h-2zM1222 1196h2v2h-2zM910 1198h2v2h-2zM914 1198h2v2h-2zM1030 1198h2v2h-2zM1178 1198h2v2h-2zM1222 1198h2v2h-2zM912 1200h2v2h-2zM1030 1200h2v2h-2zM1172 1200h6v2h-6zM1224 1200h2v2h-2zM1032 1202h2v2h-2zM1164 1202h8v2h-8zM1226 1202h2v2h-2zM1032 1204h2v2h-2zM1156 1204h8v2h-8zM1228 1204h2v2h-2zM1034 1206h2v2h-2zM1152 1206h4v2h-4zM1230 1206h2v2h-2zM1036 1208h4v2h-4zM1150 1208h2v2h-2zM1232 1208h2v2h-2zM1040 1210h2v2h-2zM1146 1210h4v2h-4zM1234 1210h2v2h-2zM1042 1212h2v2h-2zM1144 1212h2v2h-2zM1236 1212h2v2h-2zM1044 1214h4v2h-4zM1142 1214h2v2h-2zM1238 1214h2v2h-2zM1048 1216h2v2h-2zM1140 1216h2v2h-2zM1240 1216h2v2h-2zM1050 1218h2v2h-2zM1074 1218h10v2h-10zM1138 1218h2v2h-2zM1242 1218h2v2h-2zM1052 1220h4v2h-4zM1062 1220h12v2h-12zM1084 1220h6v2h-6zM1134 1220h4v2h-4zM1244 1220h2v2h-2zM1056 1222h6v2h-6zM1090 1222h6v2h-6zM1132 1222h2v2h-2zM1246 1222h2v2h-2zM1096 1224h6v2h-6zM1130 1224h2v2h-2zM1248 1224h2v2h-2zM1102 1226h28v2h-28z" fill="#2aa5dd" shape-rendering="crispEdges"/>
<g shape-rendering="crispEdges">
<rect x="1197" y="3" width="26" height="26" fill="#fff" stroke="#1878c9" stroke-width="2"/>
<rect x="1229" y="3" width="26" height="26" fill="#fff" stroke="#1878c9" stroke-width="2"/>
<rect x="1260" y="2" width="28" height="28" fill="#1878c9"/>
<rect x="1293" y="3" width="26" height="26" fill="#fff" stroke="#1878c9" stroke-width="2"/>
<rect x="1208" y="6" width="4" height="6" fill="#1878c9"/><rect x="1208" y="14" width="4" height="4" fill="#1878c9"/><rect x="1208" y="20" width="4" height="6" fill="#1878c9"/>
<rect x="1200" y="14" width="6" height="4" fill="#1878c9"/><rect x="1214" y="14" width="6" height="4" fill="#1878c9"/>
<rect x="1234" y="6" width="2" height="20" fill="#1878c9"/>
<rect x="1232" y="8" width="6" height="2" fill="#1878c9"/>
<rect x="1232" y="22" width="20" height="2" fill="#1878c9"/>
<rect x="1248" y="20" width="2" height="6" fill="#1878c9"/>
<rect x="1240" y="8" width="2" height="12" fill="#1878c9"/>
</g>
<path d="M1248 8 L1248 18 L1243 13 Z" fill="#1878c9"/>
<g shape-rendering="crispEdges">
<rect x="1266" y="6" width="2" height="20" fill="#fff"/>
<rect x="1264" y="8" width="6" height="2" fill="#fff"/>
<rect x="1264" y="22" width="20" height="2" fill="#fff"/>
<rect x="1280" y="20" width="2" height="6" fill="#fff"/>
</g>
<path d="M1273 8 L1282 14.5 L1273 21 Z" fill="#e8f1fa"/>
<g shape-rendering="crispEdges">
<rect x="1297" y="7" width="6" height="18" fill="none" stroke="#1878c9" stroke-width="2"/>
<rect x="1300" y="14" width="10" height="4" fill="#1878c9"/>
</g>
<path d="M1308 10 L1316 16 L1308 22 Z" fill="#1878c9"/>
<circle cx="385.5" cy="22.5" r="8.3" fill="none" stroke="#ff8a1a" stroke-width="1.4"/>
<path d="M377 22.5 H394 M385.5 14 V31" stroke="#ff8a1a" stroke-width="1.4" fill="none"/>
<g shape-rendering="crispEdges">
<rect x="418" y="2" width="4" height="2" fill="#c4d0d3"/>
<rect x="416" y="4" width="2" height="2" fill="#c4d0d3"/>
<rect x="418" y="4" width="4" height="2" fill="#ff0000"/>
<rect x="422" y="4" width="2" height="2" fill="#c4d0d3"/>
<rect x="414" y="6" width="2" height="2" fill="#c4d0d3"/>
<rect x="416" y="6" width="8" height="2" fill="#ff0000"/>
<rect x="424" y="6" width="2" height="2" fill="#c4d0d3"/>
<rect x="412" y="8" width="2" height="2" fill="#c4d0d3"/>
<rect x="414" y="8" width="12" height="2" fill="#ff0000"/>
<rect x="426" y="8" width="2" height="2" fill="#c4d0d3"/>
<rect x="410" y="10" width="2" height="2" fill="#c4d0d3"/>
<rect x="412" y="10" width="16" height="2" fill="#ff0000"/>
<rect x="428" y="10" width="2" height="2" fill="#c4d0d3"/>
<rect x="410" y="12" width="8" height="2" fill="#c4d0d3"/>
<rect x="418" y="12" width="4" height="2" fill="#ff0000"/>
<rect x="422" y="12" width="8" height="2" fill="#c4d0d3"/>
<rect x="410" y="14" width="6" height="2" fill="#000"/>
<rect x="416" y="14" width="2" height="2" fill="#c4d0d3"/>
<rect x="418" y="14" width="4" height="2" fill="#ff0000"/>
<rect x="422" y="14" width="2" height="2" fill="#c4d0d3"/>
<rect x="424" y="14" width="8" height="2" fill="#000"/>
<rect x="416" y="16" width="2" height="6" fill="#c4d0d3"/>
<rect x="418" y="16" width="4" height="6" fill="#ff0000"/>
<rect x="422" y="16" width="2" height="6" fill="#c4d0d3"/>
<rect x="424" y="16" width="2" height="6" fill="#000"/>
<rect x="416" y="22" width="8" height="2" fill="#c4d0d3"/>
<rect x="424" y="22" width="2" height="2" fill="#000"/>
<rect x="418" y="24" width="8" height="2" fill="#000"/>
</g>
<g shape-rendering="crispEdges">
<rect x="56" y="996" width="2" height="4" fill="#ff0000"/>
<rect x="56" y="1020" width="2" height="4" fill="#ff0000"/>
<rect x="44" y="1008" width="4" height="2" fill="#ff0000"/>
<rect x="68" y="1008" width="4" height="2" fill="#ff0000"/>
<rect x="46" y="998" width="2" height="2" fill="#ff0000"/>
<rect x="48" y="1000" width="2" height="2" fill="#ff0000"/>
<rect x="68" y="998" width="2" height="2" fill="#ff0000"/>
<rect x="66" y="1000" width="2" height="2" fill="#ff0000"/>
<rect x="48" y="1018" width="2" height="2" fill="#ff0000"/>
<rect x="46" y="1020" width="2" height="2" fill="#ff0000"/>
<rect x="66" y="1018" width="2" height="2" fill="#ff0000"/>
<rect x="68" y="1020" width="2" height="2" fill="#ff0000"/>
<rect x="54" y="1002" width="8" height="2" fill="#000000"/>
<rect x="54" y="1016" width="8" height="2" fill="#000000"/>
<rect x="52" y="1004" width="2" height="2" fill="#000000"/>
<rect x="62" y="1004" width="2" height="2" fill="#000000"/>
<rect x="52" y="1014" width="2" height="2" fill="#000000"/>
<rect x="62" y="1014" width="2" height="2" fill="#000000"/>
<rect x="50" y="1006" width="2" height="8" fill="#000000"/>
<rect x="64" y="1006" width="2" height="8" fill="#000000"/>
<rect x="56" y="1006" width="4" height="8" fill="#ff0000"/>
<rect x="54" y="1008" width="8" height="4" fill="#ff0000"/>
</g>
<g shape-rendering="crispEdges">
<rect x="40" y="1228" width="140" height="2" fill="#cdd5de"/>
<rect x="178" y="1230" width="2" height="37" fill="#cdd5de"/>
<rect x="40" y="1230" width="2" height="36" fill="#d3dae3"/>
<rect x="40" y="1266" width="159" height="3" fill="#cdd5de"/>
<path d="M137.6 1242 L146 1258.5 L129.2 1258.5 Z" fill="#ff7f0e" shape-rendering="auto"/>
<rect x="384" y="1230" width="2" height="10" fill="#d5dce4"/>
<rect x="864" y="1230" width="2" height="10" fill="#d5dce4"/>
<rect x="199" y="1268" width="1077" height="2" fill="#e3e8ee"/>
<rect x="760" y="1268" width="96" height="2" fill="#ccd4dd"/>
<rect x="1276" y="1268" width="186" height="2" fill="#bcc5d0"/>
<rect x="948" y="1262" width="308" height="2" fill="#edf1f5"/>
<rect x="200" y="1268" width="80" height="32" fill="#ff6a00"/>
<rect x="280" y="1275" width="34" height="25" fill="#ff6a00"/>
<rect x="118" y="1270" width="2" height="30" fill="#d3dae3"/>
<rect x="198" y="1270" width="2" height="30" fill="#d3dae3"/>
<rect x="314" y="1270" width="2" height="30" fill="#d3dae3"/>
<rect x="466" y="1270" width="2" height="30" fill="#d3dae3"/>
<rect x="582" y="1270" width="2" height="30" fill="#d3dae3"/>
<rect x="698" y="1270" width="2" height="30" fill="#d3dae3"/>
<rect x="802" y="1270" width="2" height="30" fill="#d3dae3"/>
<rect x="906" y="1270" width="2" height="30" fill="#d3dae3"/>
<rect x="1046" y="1270" width="2" height="30" fill="#d3dae3"/>
<rect x="1102" y="1276" width="2" height="24" fill="#bcc5d0"/>
<rect x="1102" y="1298" width="360" height="2" fill="#bcc5d0"/>
<rect x="294" y="1274" width="7" height="2" fill="#2a3448"/>
<rect x="306" y="1274" width="7" height="2" fill="#2a3448"/>
<rect x="328" y="1274" width="6" height="2" fill="#2a3448"/>
<rect x="341" y="1274" width="8" height="2" fill="#2a3448"/>
<rect x="438" y="1274" width="7" height="2" fill="#2a3448"/>
<rect x="450" y="1274" width="7" height="2" fill="#2a3448"/>
<rect x="470" y="1274" width="7" height="2" fill="#2a3448"/>
<rect x="863" y="1274" width="8" height="2" fill="#2a3448"/>
<rect x="880" y="1274" width="7" height="2" fill="#2a3448"/>
<rect x="896" y="1274" width="9" height="2" fill="#2a3448"/>
<rect x="911" y="1274" width="8" height="2" fill="#2a3448"/>
<rect x="1008" y="1274" width="7" height="2" fill="#2a3448"/>
<rect x="1022" y="1274" width="8" height="2" fill="#2a3448"/>
<rect x="1041" y="1274" width="9" height="2" fill="#2a3448"/>
<rect x="1056" y="1274" width="8" height="2" fill="#2a3448"/>
<rect x="1148" y="1274" width="10" height="1.5" fill="#555e70"/>
<rect x="1162" y="1274" width="10" height="1.5" fill="#555e70"/>
<rect x="1182" y="1274" width="10" height="1.5" fill="#555e70"/>
<rect x="1196" y="1274" width="10" height="1.5" fill="#555e70"/>
</g>
<text x="173.3" y="50" font-family="'Liberation Sans','Noto Sans CJK SC',sans-serif" font-size="24" fill="#1e2a47" text-anchor="end" font-weight="normal" letter-spacing="0.25">100.6943</text>
<text x="1328.5" y="50" font-family="'Liberation Sans','Noto Sans CJK SC',sans-serif" font-size="24" fill="#1e2a47" text-anchor="start" font-weight="normal" letter-spacing="0.2">100.6943</text>
<text x="173.3" y="168" font-family="'Liberation Sans','Noto Sans CJK SC',sans-serif" font-size="24" fill="#1e2a47" text-anchor="end" font-weight="normal" letter-spacing="0.25">100.1878</text>
<text x="1328.5" y="168" font-family="'Liberation Sans','Noto Sans CJK SC',sans-serif" font-size="24" fill="#1e2a47" text-anchor="start" font-weight="normal" letter-spacing="0.2">100.1878</text>
<text x="173.3" y="288" font-family="'Liberation Sans','Noto Sans CJK SC',sans-serif" font-size="24" fill="#1e2a47" text-anchor="end" font-weight="normal" letter-spacing="0.25">99.6812</text>
<text x="1328.5" y="288" font-family="'Liberation Sans','Noto Sans CJK SC',sans-serif" font-size="24" fill="#1e2a47" text-anchor="start" font-weight="normal" letter-spacing="0.2">99.6812</text>
<text x="173.3" y="408" font-family="'Liberation Sans','Noto Sans CJK SC',sans-serif" font-size="24" fill="#1e2a47" text-anchor="end" font-weight="normal" letter-spacing="0.25">99.1747</text>
<text x="1328.5" y="408" font-family="'Liberation Sans','Noto Sans CJK SC',sans-serif" font-size="24" fill="#1e2a47" text-anchor="start" font-weight="normal" letter-spacing="0.2">99.1747</text>
<text x="173.3" y="526" font-family="'Liberation Sans','Noto Sans CJK SC',sans-serif" font-size="24" fill="#1e2a47" text-anchor="end" font-weight="normal" letter-spacing="0.25">98.6682</text>
<text x="1328.5" y="526" font-family="'Liberation Sans','Noto Sans CJK SC',sans-serif" font-size="24" fill="#1e2a47" text-anchor="start" font-weight="normal" letter-spacing="0.2">98.6682</text>
<text x="173.3" y="646" font-family="'Liberation Sans','Noto Sans CJK SC',sans-serif" font-size="24" fill="#1e2a47" text-anchor="end" font-weight="normal" letter-spacing="0.25">98.1616</text>
<text x="1328.5" y="646" font-family="'Liberation Sans','Noto Sans CJK SC',sans-serif" font-size="24" fill="#1e2a47" text-anchor="start" font-weight="normal" letter-spacing="0.2">98.1616</text>
<text x="173" y="808" font-family="'Liberation Sans','Noto Sans CJK SC',sans-serif" font-size="24" fill="#1e2a47" text-anchor="end" font-weight="normal" letter-spacing="0.1">0.4528</text>
<text x="1328.5" y="808" font-family="'Liberation Sans','Noto Sans CJK SC',sans-serif" font-size="24" fill="#1e2a47" text-anchor="start" font-weight="normal" letter-spacing="0.15">0.4528</text>
<text x="173" y="856" font-family="'Liberation Sans','Noto Sans CJK SC',sans-serif" font-size="24" fill="#1e2a47" text-anchor="end" font-weight="normal" letter-spacing="0.1">0.2621</text>
<text x="1328.5" y="856" font-family="'Liberation Sans','Noto Sans CJK SC',sans-serif" font-size="24" fill="#1e2a47" text-anchor="start" font-weight="normal" letter-spacing="0.15">0.2621</text>
<text x="173" y="904" font-family="'Liberation Sans','Noto Sans CJK SC',sans-serif" font-size="24" fill="#1e2a47" text-anchor="end" font-weight="normal" letter-spacing="0.1">0.0715</text>
<text x="1328.5" y="904" font-family="'Liberation Sans','Noto Sans CJK SC',sans-serif" font-size="24" fill="#1e2a47" text-anchor="start" font-weight="normal" letter-spacing="0.15">0.0715</text>
<text x="173" y="952" font-family="'Liberation Sans','Noto Sans CJK SC',sans-serif" font-size="24" fill="#1e2a47" text-anchor="end" font-weight="normal" letter-spacing="0.45">-0.1191</text>
<text x="1328.5" y="952" font-family="'Liberation Sans','Noto Sans CJK SC',sans-serif" font-size="24" fill="#1e2a47" text-anchor="start" font-weight="normal" letter-spacing="0.15">-0.1191</text>
<text x="173.3" y="1045.5" font-family="'Liberation Sans','Noto Sans CJK SC',sans-serif" font-size="24" fill="#1e2a47" text-anchor="end" font-weight="normal" letter-spacing="0.2">70.1070</text>
<text x="1328.5" y="1045.5" font-family="'Liberation Sans','Noto Sans CJK SC',sans-serif" font-size="24" fill="#1e2a47" text-anchor="start" font-weight="normal" letter-spacing="0.2">70.1070</text>
<text x="173.3" y="1092" font-family="'Liberation Sans','Noto Sans CJK SC',sans-serif" font-size="24" fill="#1e2a47" text-anchor="end" font-weight="normal" letter-spacing="0.2">60.7109</text>
<text x="1328.5" y="1092" font-family="'Liberation Sans','Noto Sans CJK SC',sans-serif" font-size="24" fill="#1e2a47" text-anchor="start" font-weight="normal" letter-spacing="0.2">60.7109</text>
<text x="173.3" y="1139.5" font-family="'Liberation Sans','Noto Sans CJK SC',sans-serif" font-size="24" fill="#1e2a47" text-anchor="end" font-weight="normal" letter-spacing="0.2">51.3147</text>
<text x="1328.5" y="1139.5" font-family="'Liberation Sans','Noto Sans CJK SC',sans-serif" font-size="24" fill="#1e2a47" text-anchor="start" font-weight="normal" letter-spacing="0.2">51.3147</text>
<text x="173.3" y="1187.5" font-family="'Liberation Sans','Noto Sans CJK SC',sans-serif" font-size="24" fill="#1e2a47" text-anchor="end" font-weight="normal" letter-spacing="0.2">41.9185</text>
<text x="1328.5" y="1187.5" font-family="'Liberation Sans','Noto Sans CJK SC',sans-serif" font-size="24" fill="#1e2a47" text-anchor="start" font-weight="normal" letter-spacing="0.2">41.9185</text>
<text x="184" y="28" font-family="'Liberation Sans','Noto Sans CJK SC',sans-serif" font-size="24" fill="#000" text-anchor="start" font-weight="normal">美元指数</text>
<text x="277 304 328 355.5" y="28" font-family="'Liberation Sans','Noto Sans CJK SC',sans-serif" font-size="24" fill="#ff8a1a">【日线】</text>
<text x="440" y="27.8" font-family="'Liberation Sans','Noto Sans CJK SC',sans-serif" font-size="24" fill="#1a1a2e" text-anchor="start" font-weight="normal">VR(26,70,250)</text>
<text x="442" y="115.5" font-family="'Liberation Sans','Noto Sans CJK SC',sans-serif" font-size="24" fill="#eb4d5c" text-anchor="start" font-weight="normal" stroke="#eb4d5c" stroke-width="0.45" letter-spacing="0.5">100.3599</text>
<text x="730" y="107.5" font-family="'Liberation Sans','Noto Sans CJK SC',sans-serif" font-size="24" fill="#eb4d5c" text-anchor="start" font-weight="normal" stroke="#eb4d5c" stroke-width="0.45" letter-spacing="0.3">100.3900</text>
<text x="298" y="572" font-family="'Liberation Sans','Noto Sans CJK SC',sans-serif" font-size="24" fill="#53b987" text-anchor="start" font-weight="normal" stroke="#53b987" stroke-width="0.45">98.5510</text>
<text x="1141.5" y="736" font-family="'Liberation Sans','Noto Sans CJK SC',sans-serif" font-size="24" fill="#53b987" text-anchor="start" font-weight="normal" stroke="#53b987" stroke-width="0.45" letter-spacing="0.4">97.8539</text>
<text x="1232" y="435.5" font-family="'Liberation Sans','Noto Sans CJK SC',sans-serif" font-size="24" fill="#7d12f7" text-anchor="start" font-weight="normal" stroke="#7d12f7" stroke-width="0.45" letter-spacing="0.4">99.0000</text>
<text x="1327.5" y="727.8" font-family="'Liberation Sans','Noto Sans CJK SC',sans-serif" font-size="24" fill="#ff8c1a" text-anchor="start" font-weight="normal" stroke="#ff8c1a" stroke-width="0.3">97.8991</text>
<text x="184" y="786" font-family="'Liberation Sans','Noto Sans CJK SC',sans-serif" font-size="24" fill="#1a1a2e" text-anchor="start" font-weight="normal" letter-spacing="0.4">MACD(26,12,9)</text>
<text x="364" y="786" font-family="'Liberation Sans','Noto Sans CJK SC',sans-serif" font-size="24" fill="#3d8ef5" text-anchor="start" font-weight="normal">DIFF:-0.3097</text>
<text x="522" y="786" font-family="'Liberation Sans','Noto Sans CJK SC',sans-serif" font-size="24" fill="#45c187" text-anchor="start" font-weight="normal" letter-spacing="0.25">DEA:-0.2328</text>
<text x="678" y="786" font-family="'Liberation Sans','Noto Sans CJK SC',sans-serif" font-size="24" fill="#3caae3" text-anchor="start" font-weight="normal" letter-spacing="0.7">MACD:-0.1537</text>
<text x="184" y="1023" font-family="'Liberation Sans','Noto Sans CJK SC',sans-serif" font-size="24" fill="#1a1a2e" text-anchor="start" font-weight="normal">RSI(14,14,14)</text>
<text x="342" y="1023" font-family="'Liberation Sans','Noto Sans CJK SC',sans-serif" font-size="24" fill="#3d8ef5" text-anchor="start" font-weight="normal">RSI1:33.1245</text>
<text x="506" y="1023" font-family="'Liberation Sans','Noto Sans CJK SC',sans-serif" font-size="24" fill="#45c187" text-anchor="start" font-weight="normal">RSI2:33.1245</text>
<text x="670" y="1023" font-family="'Liberation Sans','Noto Sans CJK SC',sans-serif" font-size="24" fill="#3caae3" text-anchor="start" font-weight="normal">RSI3:33.1245</text>
<text x="388.5" y="1253.5" font-family="'Liberation Sans','Noto Sans CJK SC',sans-serif" font-size="24" fill="#1e2a47" text-anchor="start" font-weight="bold" letter-spacing="0.45">2025/11</text>
<text x="867.5" y="1253.5" font-family="'Liberation Sans','Noto Sans CJK SC',sans-serif" font-size="24" fill="#1e2a47" text-anchor="start" font-weight="bold" letter-spacing="0.45">2025/12</text>
<text x="68" y="1260.5" font-family="'Liberation Sans','Noto Sans CJK SC',sans-serif" font-size="26" fill="#ff7f0e" text-anchor="start" font-weight="bold">日线</text>
<text x="19.5 19.5 19.5" y="34 63 91.5" font-family="'Liberation Serif','Noto Serif CJK SC',serif" font-size="24" fill="#1f2a3c" stroke="#1f2a3c" stroke-width="0.35" text-anchor="middle" font-weight="500">分时图</text>
<text x="20 19.5 19.5" y="131 161.5 188.5" font-family="'Liberation Serif','Noto Serif CJK SC',serif" font-size="24" fill="#ffffff" stroke="#ffffff" stroke-width="0.35" text-anchor="middle" font-weight="500"><tspan font-family="'Liberation Serif',serif" font-size="21" font-weight="normal" stroke-width="0.2">K</tspan>线图</text>
<text x="19.5 19.5 19.5" y="230.5 259 287.5" font-family="'Liberation Serif','Noto Serif CJK SC',serif" font-size="24" fill="#1f2a3c" stroke="#1f2a3c" stroke-width="0.35" text-anchor="middle" font-weight="500">闪电图</text>
<text x="19.5 19.5 19.5 19.5" y="334.5 362.8 391 419.2" font-family="'Liberation Serif','Noto Serif CJK SC',serif" font-size="24" fill="#1f2a3c" stroke="#1f2a3c" stroke-width="0.35" text-anchor="middle" font-weight="500">合约资料</text>
<text x="55.5" y="1292.5" font-family="'Liberation Serif','Noto Serif CJK SC',serif" font-size="24" fill="#1f2a3c" text-anchor="start" font-weight="500" stroke="#1f2a3c" stroke-width="0.35">指标</text>
<text x="135.5" y="1292.5" font-family="'Liberation Serif','Noto Serif CJK SC',serif" font-size="24" fill="#1f2a3c" text-anchor="start" font-weight="500" stroke="#1f2a3c" stroke-width="0.35">模板</text>
<text x="222.5 234 245.5 264 288" y="1291.5 1291.5 1291.5 1292.5 1292.5" font-family="'Liberation Serif','Noto Serif CJK SC',serif" font-size="24" fill="#fff" text-anchor="middle" font-weight="500"><tspan font-family="'Liberation Serif',serif" font-size="21" font-weight="normal" stroke="#fff" stroke-width="0.4">VIP</tspan>指标</text>
<text transform="translate(332,1291) scale(0.74,1)" x="8.11 24.32 40.54 56.76 72.97 89.19 105.41 121.62 137.84 154.05" y="0" font-family="'Liberation Serif',serif" font-size="22.5" fill="#1f2a3c" stroke="#1f2a3c" stroke-width="0.5" text-anchor="middle" font-weight="normal">BARUPDN_UD</text>
<text transform="translate(484,1291) scale(0.74,1)" x="8.11 24.32 40.54 56.76 72.97 89.19 105.41" y="0" font-family="'Liberation Serif',serif" font-size="22.5" fill="#1f2a3c" stroke="#1f2a3c" stroke-width="0.5" text-anchor="middle" font-weight="normal">BIAS_UD</text>
<text transform="translate(600,1291) scale(0.74,1)" x="8.11 24.32 40.54 56.76 72.97 89.19 105.41" y="0" font-family="'Liberation Serif',serif" font-size="22.5" fill="#1f2a3c" stroke="#1f2a3c" stroke-width="0.5" text-anchor="middle" font-weight="normal">BOLL_UD</text>
<text transform="translate(715,1291) scale(0.74,1)" x="8.11 24.32 40.54 56.76 72.97 89.19" y="0" font-family="'Liberation Serif',serif" font-size="22.5" fill="#1f2a3c" stroke="#1f2a3c" stroke-width="0.5" text-anchor="middle" font-weight="normal">CCI_UD</text>
<text transform="translate(819,1291) scale(0.74,1)" x="8.11 24.32 40.54 56.76 72.97 89.19" y="0" font-family="'Liberation Serif',serif" font-size="22.5" fill="#1f2a3c" stroke="#1f2a3c" stroke-width="0.5" text-anchor="middle" font-weight="normal">DMI_UD</text>
<text transform="translate(923,1291) scale(0.74,1)" x="8.11 24.32 40.54 56.76 72.97 89.19 105.41 121.62 137.84" y="0" font-family="'Liberation Serif',serif" font-size="22.5" fill="#1f2a3c" stroke="#1f2a3c" stroke-width="0.5" text-anchor="middle" font-weight="normal">INSIDE_UD</text>
<text transform="translate(1065,1291) scale(0.74,1)" x="8.11 24.32" y="0" font-family="'Liberation Serif',serif" font-size="22.5" fill="#1f2a3c" stroke="#1f2a3c" stroke-width="0.5" text-anchor="middle" font-weight="normal">&gt;&gt;</text>
<text x="1334" y="1274.5" font-family="'Liberation Sans','Noto Sans CJK SC',sans-serif" font-size="29" fill="#b9a89a" opacity="0.55" letter-spacing="3.2">FX678</text>
<text x="1333" y="1273.5" font-family="'Liberation Sans','Noto Sans CJK SC',sans-serif" font-size="29" fill="#d6e2f2" letter-spacing="3.2">FX678</text>
</svg>
</body>
</html>
